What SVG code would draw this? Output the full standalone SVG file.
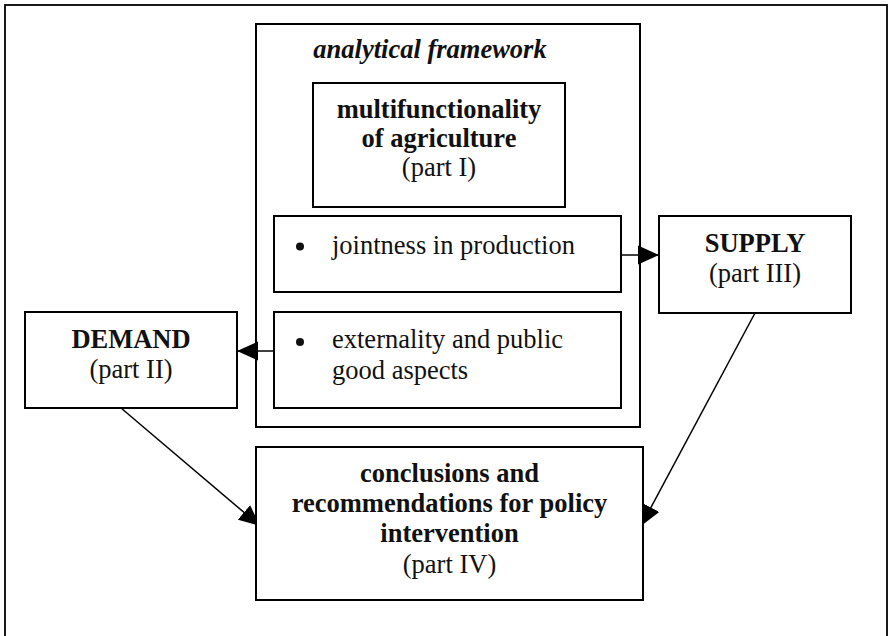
<svg xmlns="http://www.w3.org/2000/svg" width="890" height="636" viewBox="0 0 890 636">
  <style>
    .box { fill: #fff; stroke: #000; stroke-width: 2; }
    .frame { fill: none; stroke: #000; stroke-width: 1.8; }
    .conn { fill: none; stroke: #000; stroke-width: 1.5; }
    text { font-family: "Liberation Serif", "Times New Roman", serif; font-size: 26.5px; fill: #111; }
    .b { font-weight: bold; }
    .bi { font-weight: bold; font-style: italic; }
    .c { text-anchor: middle; }
  </style>
  <defs>
    <marker id="arrow" markerUnits="userSpaceOnUse" markerWidth="22" markerHeight="20" refX="21" refY="10" orient="auto">
      <path d="M0,0.5 L21,10 L0,19.5 Z" fill="#000"/>
    </marker>
  </defs>

  <rect width="890" height="636" fill="#fff"/>

  <!-- outer page frame (open at the bottom edge) -->
  <rect class="frame" x="5" y="5" width="882" height="660"/>

  <!-- analytical framework container -->
  <g id="analytical-framework">
    <rect class="box" x="256" y="24" width="384" height="403"/>
    <text class="bi c" x="430" y="58">analytical framework</text>
  </g>

  <!-- connectors (drawn beneath the boxes they enter) -->
  <g id="connectors">
    <line class="conn" x1="621" y1="255" x2="659" y2="255" marker-end="url(#arrow)"/>
    <line class="conn" x1="274" y1="351" x2="237" y2="351" marker-end="url(#arrow)"/>
    <line class="conn" x1="121" y1="408" x2="260" y2="526" marker-end="url(#arrow)"/>
    <line class="conn" x1="755" y1="313" x2="641" y2="526" marker-end="url(#arrow)"/>
  </g>

  <g id="multifunctionality">
    <rect class="box" x="313" y="83" width="252" height="124"/>
    <text class="b c" x="439" y="118">multifunctionality</text>
    <text class="b c" x="439" y="147">of agriculture</text>
    <text class="c" x="439" y="176">(part I)</text>
  </g>

  <g id="jointness">
    <rect class="box" x="274" y="216" width="347" height="76"/>
    <circle cx="300" cy="246.5" r="4" fill="#111"/>
    <text x="332" y="254">jointness in production</text>
  </g>

  <g id="externality">
    <rect class="box" x="274" y="312" width="347" height="96"/>
    <circle cx="300" cy="342" r="4" fill="#111"/>
    <text x="332" y="348">externality and public</text>
    <text x="332" y="379">good aspects</text>
  </g>

  <g id="supply">
    <rect class="box" x="659" y="216" width="192" height="97"/>
    <text class="b c" x="755" y="252">SUPPLY</text>
    <text class="c" x="755" y="282">(part III)</text>
  </g>

  <g id="demand">
    <rect class="box" x="25" y="312" width="212" height="96"/>
    <text class="b c" x="131" y="348">DEMAND</text>
    <text class="c" x="131" y="378">(part II)</text>
  </g>

  <g id="conclusions">
    <rect class="box" x="256" y="447" width="387" height="153"/>
    <text class="b c" x="449.5" y="482">conclusions and</text>
    <text class="b c" x="449.5" y="512">recommendations for policy</text>
    <text class="b c" x="449.5" y="542">intervention</text>
    <text class="c" x="449.5" y="573">(part IV)</text>
  </g>
</svg>
